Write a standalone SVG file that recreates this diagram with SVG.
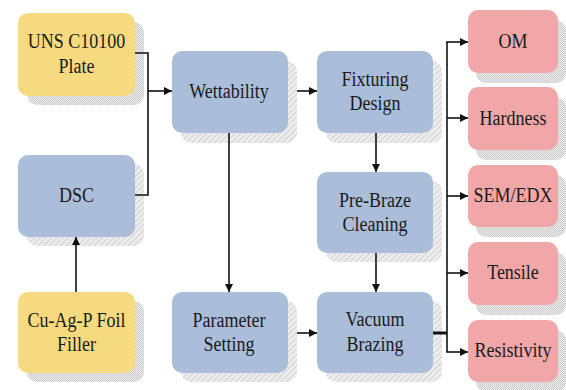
<svg xmlns="http://www.w3.org/2000/svg" width="566" height="390" viewBox="0 0 566 390">
<style>
.y{fill:#F6DA80}
.b{fill:#AABEDA}
.p{fill:#F1A7A8}
.sh{fill:url(#hatch)}
.sd{fill:url(#dots)}
.t{font-family:'Times New Roman','Liberation Serif',serif;font-size:18px;fill:#1a1a1a;text-anchor:middle}
.c{fill:none;stroke:#111;stroke-width:1.6}
</style>
<defs>
<pattern id="hatch" width="4" height="4" patternUnits="userSpaceOnUse" patternTransform="rotate(45)">
<rect width="4" height="4" fill="#ededed"/>
<line x1="0" y1="0" x2="0" y2="4" stroke="#c8c8c8" stroke-width="1.5"/>
</pattern>
<pattern id="dots" width="2" height="2" patternUnits="userSpaceOnUse">
<rect width="2" height="2" fill="#ededed"/>
<rect width="1" height="1" fill="#cbcbcb"/>
<rect x="1" y="1" width="1" height="1" fill="#cbcbcb"/>
</pattern>
<marker id="ah" viewBox="0 0 10 10" refX="10" refY="5" markerWidth="8" markerHeight="8" markerUnits="userSpaceOnUse" orient="auto">
<path d="M0,0 L10,5 L0,10 z" fill="#111"/>
</marker>
</defs>
<g id="uns">
<rect class="sd" x="27" y="22" width="117" height="83" rx="10"/>
<rect class="y" x="18" y="13" width="117" height="83" rx="10"/>
<text class="t" font-family="Times New Roman" transform="matrix(1,0,0,1.2,76.5,48)">UNS C10100</text>
<text class="t" font-family="Times New Roman" transform="matrix(1,0,0,1.2,76.5,73)">Plate</text>
</g>
<g id="dsc">
<rect class="sh" x="27" y="164" width="117" height="82" rx="10"/>
<rect class="b" x="18" y="155" width="117" height="82" rx="10"/>
<text class="t" font-family="Times New Roman" transform="matrix(1,0,0,1.2,76.5,202)">DSC</text>
</g>
<g id="cuagp">
<rect class="sd" x="27" y="301" width="117" height="81" rx="10"/>
<rect class="y" x="18" y="292" width="117" height="81" rx="10"/>
<text class="t" font-family="Times New Roman" transform="matrix(1,0,0,1.2,76.5,327)">Cu-Ag-P Foil</text>
<text class="t" font-family="Times New Roman" transform="matrix(1,0,0,1.2,76.5,351)">Filler</text>
</g>
<g id="wettability">
<rect class="sh" x="181" y="61" width="116" height="82" rx="10"/>
<rect class="b" x="172" y="51" width="116" height="82" rx="10"/>
<text class="t" font-family="Times New Roman" transform="matrix(1,0,0,1.2,229,98)">Wettability</text>
</g>
<g id="parameter">
<rect class="sh" x="181" y="301" width="116" height="81" rx="10"/>
<rect class="b" x="172" y="292" width="116" height="81" rx="10"/>
<text class="t" font-family="Times New Roman" transform="matrix(1,0,0,1.2,229,327)">Parameter</text>
<text class="t" font-family="Times New Roman" transform="matrix(1,0,0,1.2,229,351)">Setting</text>
</g>
<g id="fixturing">
<rect class="sh" x="326" y="61" width="116" height="82" rx="10"/>
<rect class="b" x="317" y="51" width="116" height="82" rx="10"/>
<text class="t" font-family="Times New Roman" transform="matrix(1,0,0,1.2,375,86)">Fixturing</text>
<text class="t" font-family="Times New Roman" transform="matrix(1,0,0,1.2,375,110)">Design</text>
</g>
<g id="prebraze">
<rect class="sh" x="326" y="181" width="116" height="81" rx="10"/>
<rect class="b" x="317" y="172" width="116" height="81" rx="10"/>
<text class="t" font-family="Times New Roman" transform="matrix(1,0,0,1.2,375,207)">Pre-Braze</text>
<text class="t" font-family="Times New Roman" transform="matrix(1,0,0,1.2,375,231)">Cleaning</text>
</g>
<g id="vacuum">
<rect class="sh" x="326" y="301" width="116" height="81" rx="10"/>
<rect class="b" x="317" y="292" width="116" height="81" rx="10"/>
<text class="t" font-family="Times New Roman" transform="matrix(1,0,0,1.2,375,326)">Vacuum</text>
<text class="t" font-family="Times New Roman" transform="matrix(1,0,0,1.2,375,351)">Brazing</text>
</g>
<g id="om">
<rect class="sd" x="476" y="20" width="90" height="63" rx="10"/>
<rect class="p" x="468" y="10" width="90" height="63" rx="10"/>
<text class="t" font-family="Times New Roman" transform="matrix(1,0,0,1.2,513,48)">OM</text>
</g>
<g id="hardness">
<rect class="sd" x="476" y="97" width="90" height="63" rx="10"/>
<rect class="p" x="468" y="87" width="90" height="63" rx="10"/>
<text class="t" font-family="Times New Roman" transform="matrix(1,0,0,1.2,513,125)">Hardness</text>
</g>
<g id="semedx">
<rect class="sd" x="476" y="175" width="90" height="62" rx="10"/>
<rect class="p" x="468" y="165" width="90" height="62" rx="10"/>
<text class="t" font-family="Times New Roman" transform="matrix(1,0,0,1.2,513,202)">SEM/EDX</text>
</g>
<g id="tensile">
<rect class="sd" x="476" y="252" width="90" height="63" rx="10"/>
<rect class="p" x="468" y="242" width="90" height="63" rx="10"/>
<text class="t" font-family="Times New Roman" transform="matrix(1,0,0,1.2,513,279)">Tensile</text>
</g>
<g id="resistivity">
<rect class="sd" x="476" y="330" width="90" height="62" rx="10"/>
<rect class="p" x="468" y="320" width="90" height="62" rx="10"/>
<text class="t" font-family="Times New Roman" transform="matrix(1,0,0,1.2,513,357)">Resistivity</text>
</g>
<g id="connectors">
<polyline class="c" points="135,53 148,53 148,195 135,195"/>
<line class="c" x1="148" y1="91" x2="172" y2="91" marker-end="url(#ah)"/>
<line class="c" x1="76" y1="292" x2="76" y2="237" marker-end="url(#ah)"/>
<line class="c" x1="297" y1="91" x2="317" y2="91" marker-end="url(#ah)"/>
<line class="c" x1="229" y1="133" x2="229" y2="292" marker-end="url(#ah)"/>
<line class="c" x1="297" y1="333" x2="317" y2="333" marker-end="url(#ah)"/>
<line class="c" x1="376" y1="133" x2="376" y2="172" marker-end="url(#ah)"/>
<line class="c" x1="376" y1="253" x2="376" y2="292" marker-end="url(#ah)"/>
<line class="c" x1="433" y1="333" x2="447" y2="333" style="stroke-width:3"/>
<line class="c" x1="447" y1="42" x2="447" y2="352"/>
<line class="c" x1="446.2" y1="42" x2="468" y2="42" marker-end="url(#ah)"/>
<line class="c" x1="447" y1="118" x2="468" y2="118" marker-end="url(#ah)"/>
<line class="c" x1="447" y1="196" x2="468" y2="196" marker-end="url(#ah)"/>
<line class="c" x1="447" y1="273" x2="468" y2="273" marker-end="url(#ah)"/>
<line class="c" x1="446.2" y1="352" x2="468" y2="352" marker-end="url(#ah)"/>
</g>
</svg>
